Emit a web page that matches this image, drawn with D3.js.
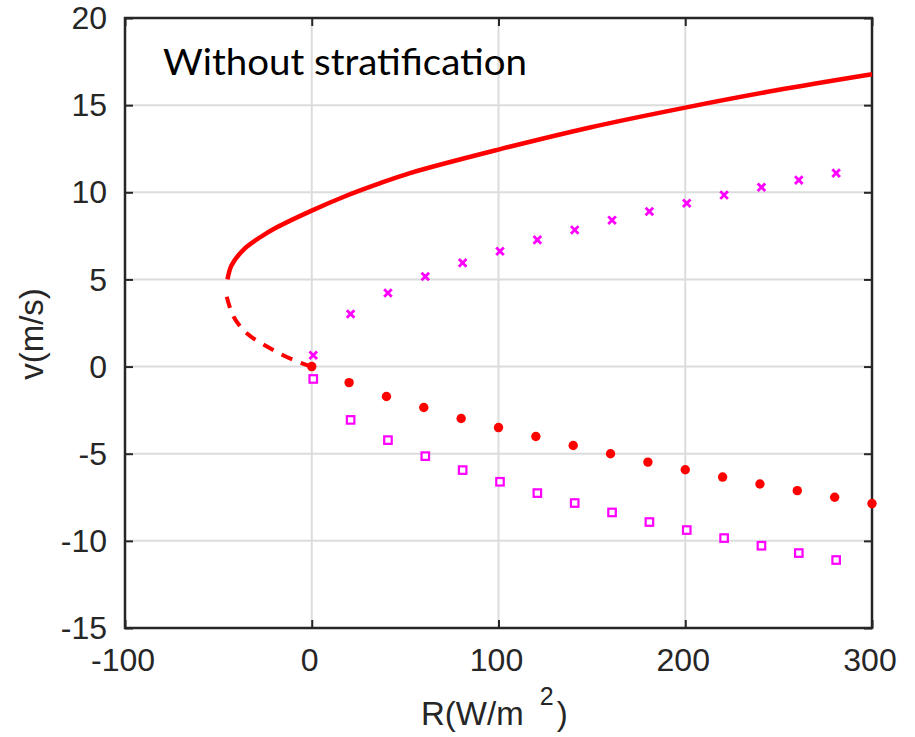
<!DOCTYPE html>
<html>
<head>
<meta charset="utf-8">
<script src="https://cdn.jsdelivr.net/npm/d3@7/dist/d3.min.js"></script>
<style>
  html, body { margin: 0; padding: 0; background: #fff; }
  svg { display: block; }
</style>
</head>
<body>
<svg id="chart" width="915" height="737"></svg>
<script>
// ---------------- data ----------------
const xTicks = [-100, 0, 100, 200, 300];
const yTicks = [-15, -10, -5, 0, 5, 10, 15, 20];

// stable branch (solid red), ordered along the curve from the turning point
const stableR = [-45.1, -43.0, -36.6, -27.6, -18.7, 0, 16.9, 34.8, 52.6, 100, 149, 200, 248.7, 300];
const stableV = [5.0, 5.8, 6.7, 7.42, 7.99, 8.95, 9.73, 10.45, 11.1, 12.45, 13.72, 14.86, 15.85, 16.77];

// unstable branch (dashed red), from origin up toward the turning point
const unstableR = [0, -9.8, -22.3, -34.8, -41.9, -45.5];
const unstableV = [0, 0.38, 1.05, 1.91, 2.87, 4.01];

// simulation points
const simR = [0, 20, 40, 60, 80, 100, 120, 140, 160, 180, 200, 220, 240, 260, 280, 300];
const dotV = [0, -0.92, -1.72, -2.35, -2.98, -3.5, -4.01, -4.53, -5.0, -5.48, -5.92, -6.34, -6.74, -7.12, -7.5, -7.86];
const crossV = [0.65, 3.02, 4.22, 5.17, 5.95, 6.62, 7.27, 7.84, 8.4, 8.9, 9.37, 9.84, 10.29, 10.7, 11.1];
const squareV = [-0.71, -3.06, -4.22, -5.14, -5.94, -6.61, -7.26, -7.83, -8.37, -8.92, -9.38, -9.84, -10.28, -10.7, -11.1];

const titleText = "Without stratification";
const xLabelMain = "R(W/m ";
const xLabelSup = "2";
const yLabel = "v(m/s)";

(function () {
// ---------------- layout ----------------
const svg = d3.select("#chart");
const pL = 125, pR = 872, pT = 18, pB = 628;
const x = d3.scaleLinear().domain([-100, 300]).range([pL, pR]);
const y = d3.scaleLinear().domain([-15, 20]).range([pB, pT]);

const RED = "#ff0000", MAG = "#ff00ff", AX = "#262626", GRID = "#dcdcdc";
const tickFont = "'Liberation Sans', Arial, Helvetica, sans-serif";
const fs = 32;

// grid
const g = svg.append("g");
g.selectAll(".gx").data(xTicks.slice(1, -1)).enter().append("line")
  .attr("x1", d => x(d)).attr("x2", d => x(d))
  .attr("y1", pT).attr("y2", pB)
  .attr("stroke", GRID).attr("stroke-width", 2);
g.selectAll(".gy").data(yTicks.slice(1, -1)).enter().append("line")
  .attr("y1", d => y(d)).attr("y2", d => y(d))
  .attr("x1", pL).attr("x2", pR)
  .attr("stroke", GRID).attr("stroke-width", 2);

// axes with inward ticks on all sides
const tl = 8;
const axB = d3.axisBottom(x).tickValues(xTicks).tickSize(-tl).tickFormat("");
const axT = d3.axisTop(x).tickValues(xTicks).tickSize(-tl).tickFormat("");
const axL = d3.axisLeft(y).tickValues(yTicks).tickSize(-tl).tickFormat("");
const axR = d3.axisRight(y).tickValues(yTicks).tickSize(-tl).tickFormat("");
function styleAxis(sel) {
  sel.select(".domain").remove();
  sel.selectAll(".tick line").attr("stroke", AX).attr("stroke-width", 2);
}
svg.append("g").attr("transform", `translate(0,${pB})`).call(axB).call(styleAxis);
svg.append("g").attr("transform", `translate(0,${pT})`).call(axT).call(styleAxis);
svg.append("g").attr("transform", `translate(${pL},0)`).call(axL).call(styleAxis);
svg.append("g").attr("transform", `translate(${pR},0)`).call(axR).call(styleAxis);

// frame
svg.append("rect").attr("x", pL).attr("y", pT)
  .attr("width", pR - pL).attr("height", pB - pT)
  .attr("fill", "none").attr("stroke", AX).attr("stroke-width", 2.5);

// tick labels
svg.append("g").selectAll("text").data(xTicks).enter().append("text")
  .attr("x", d => x(d) - 2).attr("y", pB + 43)
  .attr("text-anchor", "middle")
  .attr("font-family", tickFont).attr("font-size", fs).attr("fill", AX)
  .text(d => d);
svg.append("g").selectAll("text").data(yTicks).enter().append("text")
  .attr("x", pL - 18).attr("y", d => y(d)).attr("dy", "0.35em")
  .attr("text-anchor", "end")
  .attr("font-family", tickFont).attr("font-size", fs).attr("fill", AX)
  .text(d => d);

// axis labels
const xl = svg.append("text").attr("x", 421).attr("y", 725)
  .attr("font-family", tickFont).attr("font-size", fs + 1).attr("fill", AX);
xl.append("tspan").text(xLabelMain);
xl.append("tspan").attr("dx", 7).attr("dy", -20).attr("font-size", 25).text(xLabelSup);
xl.append("tspan").attr("dx", 3).attr("dy", 20).text(")");

svg.append("text")
  .attr("transform", "translate(43,334) rotate(-90)")
  .attr("text-anchor", "middle")
  .attr("font-family", tickFont).attr("font-size", fs + 1).attr("fill", AX)
  .text(yLabel);

// curves
const line = d3.line().x(d => x(d[0])).y(d => y(d[1])).curve(d3.curveCatmullRom.alpha(0.5));
const stable = stableR.map((r, i) => [r, stableV[i]]);
const unstable = unstableR.map((r, i) => [r, unstableV[i]]);

const plot = svg.append("g");
plot.append("path").datum(stable).attr("d", line)
  .attr("fill", "none").attr("stroke", RED).attr("stroke-width", 4.5);
const dp = plot.append("path").datum(unstable).attr("d", line)
  .attr("fill", "none").attr("stroke", RED).attr("stroke-width", 4);
const L = dp.node().getTotalLength();
const unit = L / (6 * 11 + 5 * 8.6);
dp.attr("stroke-dasharray", `${11 * unit},${8.6 * unit}`);

// markers
plot.selectAll(".sq").data(squareV).enter().append("rect")
  .attr("x", (d, i) => x(simR[i]) + 1.5 - 3.75).attr("y", d => y(d) - 3.75)
  .attr("width", 7.5).attr("height", 7.5)
  .attr("fill", "#fff").attr("stroke", MAG).attr("stroke-width", 2.2);

const cs = 3.8;
crossV.forEach((v, i) => {
  const cx = x(simR[i]) + 1.5, cy = y(v);
  plot.append("path")
    .attr("d", `M${cx - cs},${cy - cs}L${cx + cs},${cy + cs}M${cx - cs},${cy + cs}L${cx + cs},${cy - cs}`)
    .attr("stroke", MAG).attr("stroke-width", 2.8).attr("fill", "none");
});

plot.selectAll(".dot").data(dotV).enter().append("circle")
  .attr("cx", (d, i) => x(simR[i])).attr("cy", d => y(d))
  .attr("r", 4.7).attr("fill", RED);

// title
svg.append("text").attr("x", 163).attr("y", 75)
  .attr("font-family", "Lato, 'Open Sans', sans-serif").attr("font-size", 37)
  .attr("fill", "#000")
  .attr("textLength", 364).attr("lengthAdjust", "spacingAndGlyphs")
  .text(titleText);
})();
</script>
</body>
</html>
